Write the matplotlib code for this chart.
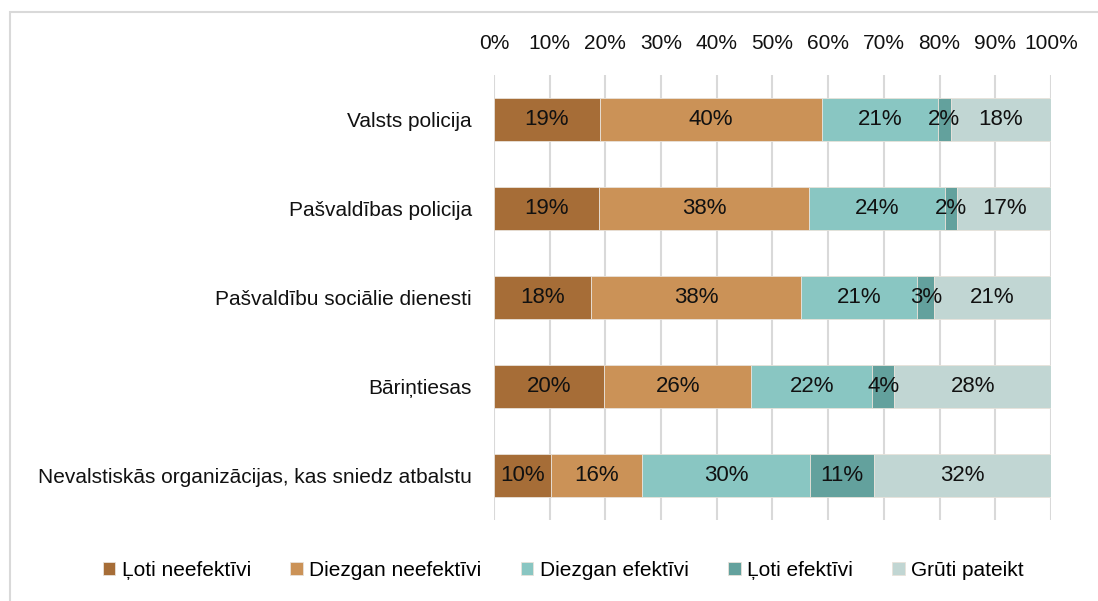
import matplotlib.pyplot as plt
import numpy as np
from matplotlib.patches import Rectangle

categories = [
    "Valsts policija",
    "Pašvaldības policija",
    "Pašvaldību sociālie dienesti",
    "Bāriņtiesas",
    "Nevalstiskās organizācijas, kas sniedz atbalstu",
]
series_names = ["Ļoti neefektīvi", "Diezgan neefektīvi", "Diezgan efektīvi",
                "Ļoti efektīvi", "Grūti pateikt"]
loti_neef = [19.0, 18.8, 17.5, 19.8, 10.2]
diezgan_neef = [39.8, 37.8, 37.6, 26.4, 16.3]
diezgan_ef = [20.9, 24.4, 20.9, 21.7, 30.3]
loti_ef = [2.3, 2.2, 3.0, 4.0, 11.4]
gruti = [18.0, 16.8, 21.0, 28.1, 31.9]

colors = ["#A66D37", "#CB9257", "#89C6C2", "#63A19D", "#C1D6D3"]

FS = 15
plt.rcParams.update({
    "font.family": ["Liberation Sans", "DejaVu Sans"],
    "font.size": FS,
})

fig = plt.figure(figsize=(10.98, 6.01), dpi=100)
ax = fig.add_axes([0.4499, 0.135, 0.5073, 0.740])

y = np.arange(len(categories))
left = np.zeros(len(categories))
for name, vals, col in zip(series_names, [loti_neef, diezgan_neef, diezgan_ef, loti_ef, gruti], colors):
    vals = np.array(vals)
    ax.barh(y, vals, left=left, height=0.48, color=col, label=name,
            edgecolor="#E8E2DA", linewidth=0.6, zorder=3)
    for i, v in enumerate(vals):
        ax.text(left[i] + v / 2, y[i], f"{int(round(v))}%", ha="center", va="center",
                fontsize=16, color="#111111", zorder=4)
    left += vals

ax.set_xlim(0, 100)
ax.set_ylim(len(categories) - 0.5, -0.5)
ax.set_yticks(y)
ax.set_yticklabels(categories)
ax.set_xticks(np.arange(0, 101, 10))
ax.set_xticklabels([f"{t}%" for t in range(0, 101, 10)])
ax.xaxis.tick_top()
ax.tick_params(axis="both", length=0, labelsize=FS, colors="#111111")
ax.tick_params(axis="x", pad=16)
ax.tick_params(axis="y", pad=16)
ax.grid(axis="x", color="#D9D9D9", linewidth=1.5, zorder=0)
for s in ax.spines.values():
    s.set_visible(False)

ax.legend(loc="center", bbox_to_anchor=(0.513, 0.051), bbox_transform=fig.transFigure,
          ncol=5, frameon=False, handlelength=0.6, handleheight=0.6,
          handletextpad=0.3, columnspacing=1.9, fontsize=FS)

fig.patches.append(Rectangle((10 / 1098, -0.1), 1.2, 1.1 - 12 / 601,
                             transform=fig.transFigure, fill=False,
                             edgecolor="#D9D9D9", linewidth=1.5))

fig.savefig("out.png", dpi=100)
